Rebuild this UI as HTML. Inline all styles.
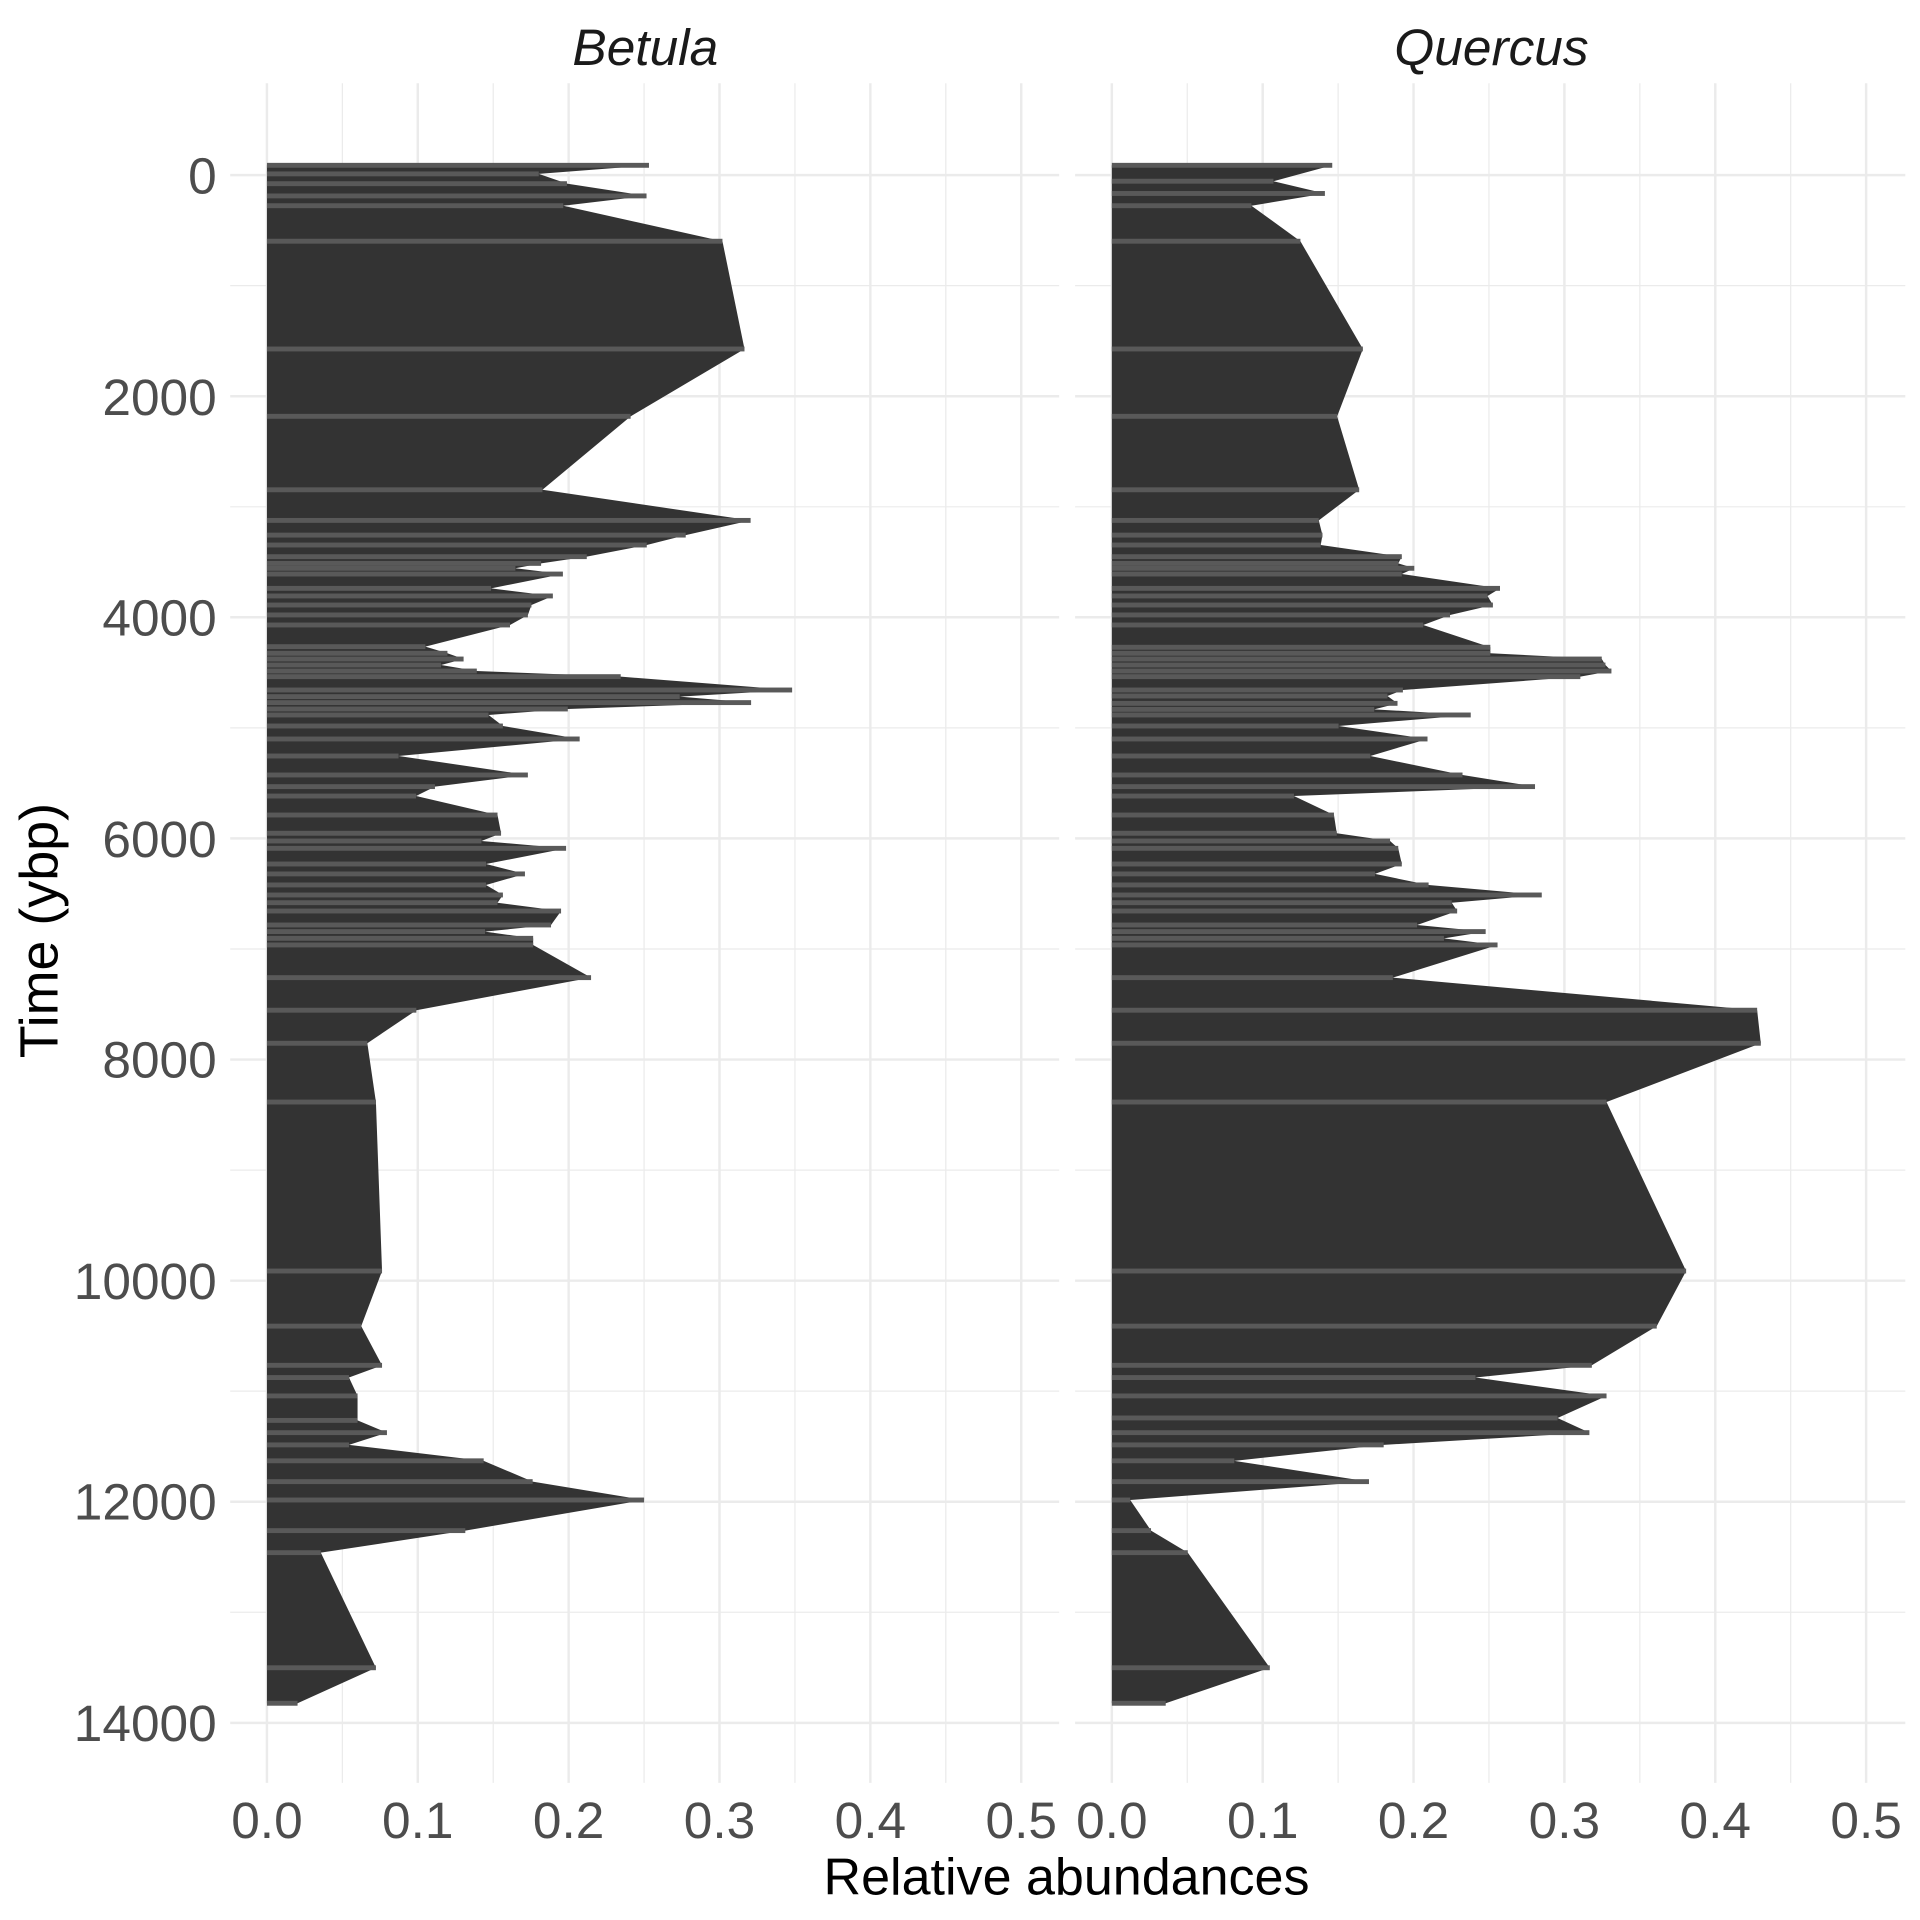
<!DOCTYPE html>
<html><head><meta charset="utf-8"><style>html,body{margin:0;padding:0;background:#fff}svg{display:block}</style></head>
<body>
<svg width="1920" height="1920" viewBox="0 0 1568 1568" xmlns="http://www.w3.org/2000/svg" font-family="Liberation Sans, sans-serif">
<rect width="1568" height="1568" fill="#fff"/>
<g id="grid">
<g stroke="#ebebeb" stroke-width="1">
<line x1="279.6" y1="68" x2="279.6" y2="1456"/><line x1="402.8" y1="68" x2="402.8" y2="1456"/><line x1="526" y1="68" x2="526" y2="1456"/><line x1="649.2" y1="68" x2="649.2" y2="1456"/><line x1="772.4" y1="68" x2="772.4" y2="1456"/>
<line x1="188" y1="233.3" x2="865" y2="233.3"/><line x1="188" y1="413.9" x2="865" y2="413.9"/><line x1="188" y1="594.4" x2="865" y2="594.4"/><line x1="188" y1="775" x2="865" y2="775"/><line x1="188" y1="955.6" x2="865" y2="955.6"/><line x1="188" y1="1136.1" x2="865" y2="1136.1"/><line x1="188" y1="1316.7" x2="865" y2="1316.7"/>
</g>
<g stroke="#ebebeb" stroke-width="2">
<line x1="218" y1="68" x2="218" y2="1456"/><line x1="341.2" y1="68" x2="341.2" y2="1456"/><line x1="464.4" y1="68" x2="464.4" y2="1456"/><line x1="587.6" y1="68" x2="587.6" y2="1456"/><line x1="710.8" y1="68" x2="710.8" y2="1456"/><line x1="834" y1="68" x2="834" y2="1456"/>
<line x1="188" y1="143" x2="865" y2="143"/><line x1="188" y1="323.6" x2="865" y2="323.6"/><line x1="188" y1="504.1" x2="865" y2="504.1"/><line x1="188" y1="684.7" x2="865" y2="684.7"/><line x1="188" y1="865.3" x2="865" y2="865.3"/><line x1="188" y1="1045.9" x2="865" y2="1045.9"/><line x1="188" y1="1226.4" x2="865" y2="1226.4"/><line x1="188" y1="1407" x2="865" y2="1407"/>
</g>
<g stroke="#ebebeb" stroke-width="1">
<line x1="969.6" y1="68" x2="969.6" y2="1456"/><line x1="1092.8" y1="68" x2="1092.8" y2="1456"/><line x1="1216" y1="68" x2="1216" y2="1456"/><line x1="1339.2" y1="68" x2="1339.2" y2="1456"/><line x1="1462.4" y1="68" x2="1462.4" y2="1456"/>
<line x1="878" y1="233.3" x2="1556" y2="233.3"/><line x1="878" y1="413.9" x2="1556" y2="413.9"/><line x1="878" y1="594.4" x2="1556" y2="594.4"/><line x1="878" y1="775" x2="1556" y2="775"/><line x1="878" y1="955.6" x2="1556" y2="955.6"/><line x1="878" y1="1136.1" x2="1556" y2="1136.1"/><line x1="878" y1="1316.7" x2="1556" y2="1316.7"/>
</g>
<g stroke="#ebebeb" stroke-width="2">
<line x1="908" y1="68" x2="908" y2="1456"/><line x1="1031.2" y1="68" x2="1031.2" y2="1456"/><line x1="1154.4" y1="68" x2="1154.4" y2="1456"/><line x1="1277.6" y1="68" x2="1277.6" y2="1456"/><line x1="1400.8" y1="68" x2="1400.8" y2="1456"/><line x1="1524" y1="68" x2="1524" y2="1456"/>
<line x1="878" y1="143" x2="1556" y2="143"/><line x1="878" y1="323.6" x2="1556" y2="323.6"/><line x1="878" y1="504.1" x2="1556" y2="504.1"/><line x1="878" y1="684.7" x2="1556" y2="684.7"/><line x1="878" y1="865.3" x2="1556" y2="865.3"/><line x1="878" y1="1045.9" x2="1556" y2="1045.9"/><line x1="878" y1="1226.4" x2="1556" y2="1226.4"/><line x1="878" y1="1407" x2="1556" y2="1407"/>
</g>
</g>
<g id="data"></g>
<g font-size="42" fill="#4d4d4d" text-anchor="end">
<text x="177" y="158">0</text><text x="177" y="339">2000</text><text x="177" y="519">4000</text><text x="177" y="700">6000</text><text x="177" y="880">8000</text><text x="177" y="1061">10000</text><text x="177" y="1241">12000</text><text x="177" y="1422">14000</text>
</g>
<g font-size="42" fill="#4d4d4d" text-anchor="middle">
<text x="218" y="1501">0.0</text><text x="341.2" y="1501">0.1</text><text x="464.4" y="1501">0.2</text><text x="587.6" y="1501">0.3</text><text x="710.8" y="1501">0.4</text><text x="834" y="1501">0.5</text>
<text x="908" y="1501">0.0</text><text x="1031.2" y="1501">0.1</text><text x="1154.4" y="1501">0.2</text><text x="1277.6" y="1501">0.3</text><text x="1400.8" y="1501">0.4</text><text x="1524" y="1501">0.5</text>
</g>
<g font-size="42" fill="#1a1a1a" font-style="italic" text-anchor="middle">
<text x="527" y="53">Betula</text><text x="1218" y="53">Quercus</text>
</g>
<text x="871" y="1547" font-size="42.5" fill="#000" text-anchor="middle">Relative abundances</text>
<text transform="translate(47,760) rotate(-90)" font-size="44" fill="#000" text-anchor="middle">Time (ybp)</text>
<script>
var B=[[135,530],[142,440],[150,463],[160,528],[168,460],[197,590],[285,608],[340,515],[400,443],[425,613],[437,560],[445.1,528.2],[454.6,479.2],[460.1,441.9],[464.1,420.9],[468.8,459.7],[480.5,401],[486.7,451.5],[494.1,434],[502.2,431.1],[510.4,416.5],[528.1,347.4],[533.5,365.4],[538.2,378.6],[543.1,360.2],[548,389.4],[552.6,506.9],[563.5,646.9],[568.9,555.1],[573.8,613.4],[579,463.7],[583.9,399],[592.9,410.7],[603.5,473.4],[617.4,325.5],[632.9,431.1],[642.4,355.2],[650.1,339.8],[665.6,406.3],[680.5,409.2],[686.8,393.2],[692.8,462.3],[705.6,396.9],[713.7,428.7],[722.7,396.9],[730.9,410.7],[737.2,406.3],[744,458.2],[755.4,450],[760.8,396.1],[766.3,435.4],[771.7,435.4],[798.4,482.7],[825,340],[852,300],[900,307],[1038,312],[1083,295],[1115,312],[1125,285],[1140,292],[1160,292],[1170,316],[1180,285],[1193,395],[1210,435],[1225,526],[1250,380],[1268,262],[1362,307],[1391,243]];
var Q=[[135,1088],[148,1040],[158,1082],[168,1022],[197,1062],[285,1113],[340,1092],[400,1110],[425,1077],[437,1080],[445.1,1078.6],[454.6,1144.8],[460.1,1141.9],[464.1,1155],[468.8,1144.8],[480.5,1225],[486.7,1214.8],[494.1,1219.2],[502.2,1184.2],[510.4,1162.3],[528.6,1217.1],[533.5,1217.1],[538.2,1308.1],[543.1,1311.1],[548,1316],[552.6,1290.6],[563.5,1145.7],[568.4,1133.1],[574.4,1141.3],[579.3,1122.3],[583.9,1201.1],[592.9,1093.2],[603.5,1165.8],[617.4,1119.1],[632.9,1194.4],[642.4,1253.6],[650.1,1056.7],[665.6,1089.4],[680.5,1091.7],[686.8,1135.2],[692.8,1141.9],[705.6,1144.8],[713.7,1122.9],[722.7,1166.7],[730.9,1259.1],[737.2,1185.6],[744,1190],[755.4,1157.3],[760.8,1213.3],[766.3,1179.2],[771.7,1223],[798.4,1137.5],[825,1435],[852,1438],[900,1312],[1038,1377],[1083,1353],[1115,1300],[1125,1205],[1140,1312],[1158,1272],[1170,1298],[1180,1130],[1193,1008],[1210,1118],[1225,923],[1250,940],[1268,970],[1362,1037],[1391,952]];
var g=document.getElementById('data'),ns='http://www.w3.org/2000/svg';
function draw(d,x0){var p=x0+','+d[0][0]+' ';d.forEach(function(a){p+=a[1]+','+a[0]+' '});p+=x0+','+d[d.length-1][0];
var pl=document.createElementNS(ns,'polygon');pl.setAttribute('points',p);pl.setAttribute('fill','#333');g.appendChild(pl);
d.forEach(function(a){var r=document.createElementNS(ns,'rect');r.setAttribute('x',x0);r.setAttribute('y',a[0]-2);r.setAttribute('width',a[1]-x0);r.setAttribute('height',4);r.setAttribute('fill','#595959');g.appendChild(r);});}
draw(B,218);draw(Q,908);
</script>
</svg>
</body></html>
